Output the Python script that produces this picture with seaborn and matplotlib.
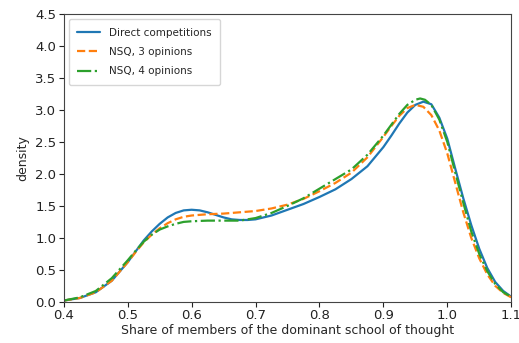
import matplotlib
matplotlib.use("Agg")
import matplotlib.pyplot as plt
import seaborn as sns
import pandas as pd

direct_x = [0.40, 0.425, 0.45, 0.475, 0.50, 0.5125, 0.525, 0.5375, 0.55, 0.5625, 0.575, 0.5875, 0.60,
            0.6125, 0.625, 0.6375, 0.65, 0.6625, 0.675, 0.6875, 0.70, 0.725, 0.75, 0.775, 0.80,
            0.825, 0.85, 0.875, 0.90, 0.9125, 0.925, 0.9375, 0.95, 0.9625, 0.975, 0.9875,
            1.00, 1.0125, 1.025, 1.0375, 1.05, 1.0625, 1.075, 1.0875, 1.10]
direct_y = [0.02, 0.06, 0.15, 0.33, 0.62, 0.79, 0.96, 1.10, 1.22, 1.32, 1.39, 1.43, 1.44,
            1.43, 1.40, 1.36, 1.32, 1.29, 1.28, 1.28, 1.29, 1.35, 1.44, 1.53, 1.64,
            1.76, 1.92, 2.12, 2.42, 2.60, 2.79, 2.96, 3.08, 3.13, 3.09, 2.88,
            2.55, 2.08, 1.62, 1.20, 0.83, 0.53, 0.31, 0.17, 0.08]

nsq3_x = [0.40, 0.425, 0.45, 0.475, 0.50, 0.5125, 0.525, 0.5375, 0.55, 0.5625, 0.575, 0.5875, 0.60,
          0.625, 0.65, 0.675, 0.70, 0.725, 0.75, 0.775, 0.80, 0.825, 0.85, 0.875, 0.90,
          0.9125, 0.925, 0.9375, 0.95, 0.9625, 0.975, 0.9875, 1.00, 1.0125, 1.025, 1.0375,
          1.05, 1.0625, 1.075, 1.0875, 1.10]
nsq3_y = [0.02, 0.06, 0.15, 0.33, 0.62, 0.78, 0.93, 1.05, 1.15, 1.23, 1.29, 1.33, 1.35,
          1.37, 1.38, 1.40, 1.42, 1.46, 1.52, 1.61, 1.73, 1.86, 2.02, 2.26, 2.58,
          2.75, 2.91, 3.03, 3.08, 3.05, 2.92, 2.68, 2.32, 1.86, 1.40, 1.00,
          0.68, 0.43, 0.25, 0.14, 0.07]

nsq4_x = [0.40, 0.425, 0.45, 0.475, 0.50, 0.5125, 0.525, 0.5375, 0.55, 0.5625, 0.575, 0.5875, 0.60,
          0.625, 0.65, 0.675, 0.70, 0.725, 0.75, 0.775, 0.80, 0.825, 0.85, 0.875, 0.90,
          0.9125, 0.925, 0.9375, 0.95, 0.9575, 0.965, 0.975, 0.9875, 1.00, 1.0125, 1.025, 1.0375,
          1.05, 1.0625, 1.075, 1.0875, 1.10]
nsq4_y = [0.02, 0.07, 0.17, 0.37, 0.65, 0.80, 0.94, 1.05, 1.13, 1.18, 1.22, 1.25, 1.26,
          1.27, 1.27, 1.27, 1.31, 1.39, 1.50, 1.62, 1.77, 1.92, 2.07, 2.30, 2.60,
          2.77, 2.94, 3.08, 3.16, 3.18, 3.16, 3.08, 2.85, 2.50, 2.02, 1.55, 1.10,
          0.75, 0.48, 0.28, 0.15, 0.08]

labels = ["Direct competitions", "NSQ, 3 opinions", "NSQ, 4 opinions"]
xticks = [0.4, 0.5, 0.6, 0.7, 0.8, 0.9, 1.0, 1.1]
yticks = [0.0, 0.5, 1.0, 1.5, 2.0, 2.5, 3.0, 3.5, 4.0, 4.5]

sns.set_style("ticks")
plt.rcParams["font.family"] = ["DejaVu Sans"]

fig = plt.figure(figsize=(5.19, 3.43), dpi=100)
ax = fig.add_axes([0.123, 0.12, 0.862, 0.839])

series = [(direct_x, direct_y, "#1f77b4", "-"),
          (nsq3_x, nsq3_y, "#ff7f0e", "--"),
          (nsq4_x, nsq4_y, "#2ca02c", "-.")]
for (xs, ys, c, ls), lab in zip(series, labels):
    df = pd.DataFrame({"x": xs, "y": ys})
    sns.lineplot(data=df, x="x", y="y", ax=ax, color=c, linestyle=ls, linewidth=1.6, label=lab)

ax.set_xlim(0.4, 1.1)
ax.set_ylim(0, 4.5)
ax.set_xticks(xticks)
ax.set_yticks(yticks)
ax.set_xticklabels([f"{t:.1f}" for t in xticks], fontsize=9.5)
ax.set_yticklabels([f"{t:.1f}" for t in yticks], fontsize=9.5)
ax.set_xlabel("Share of members of the dominant school of thought", fontsize=9, labelpad=1)
ax.set_ylabel("density", fontsize=9)
for s in ax.spines.values():
    s.set_visible(True)
    s.set_color("#444444")
    s.set_linewidth(0.8)
ax.tick_params(length=3.5, width=0.8, colors="#222222", pad=2)
leg = ax.legend(loc="upper left", fontsize=7.5, frameon=True, borderpad=0.8, labelspacing=0.9,
                handlelength=2.2)
leg.get_frame().set_edgecolor("#cccccc")
fig.savefig("out.png", dpi=100)
